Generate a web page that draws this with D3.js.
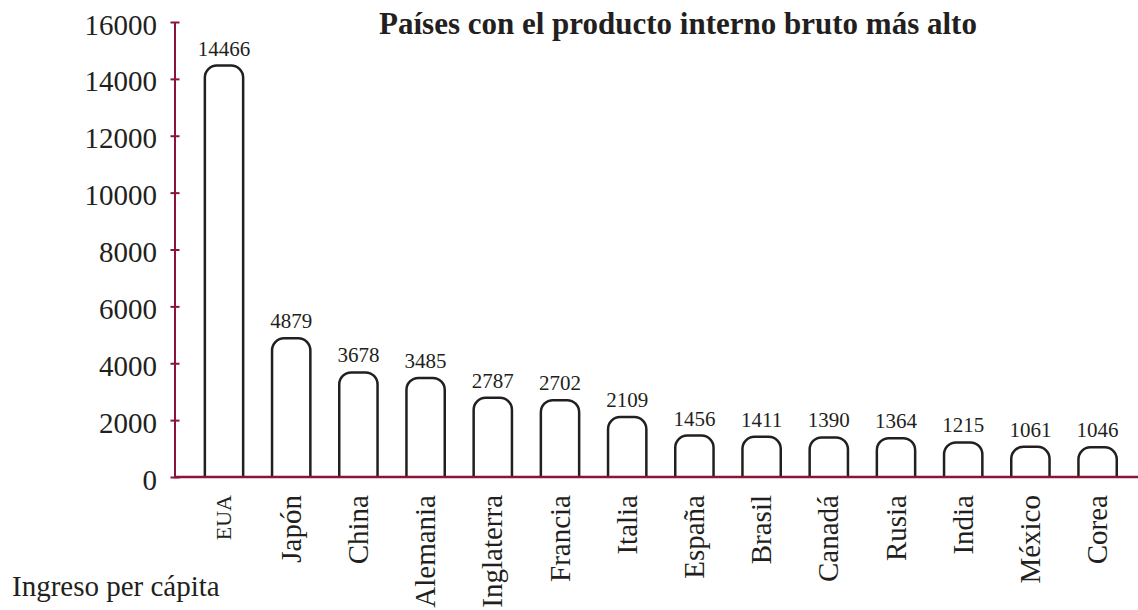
<!DOCTYPE html>
<head>
  <meta charset="utf-8">
  <style>
    body { margin: 0; background: #fff; }
    svg text { font-family: "Liberation Serif", "Times New Roman", serif; fill: #231f20; }
    .axis path, .axis line { stroke: #8a1538; stroke-width: 2; }
    .axis .domain { display: none; }
    .bar { fill: #fff; stroke: #231f20; stroke-width: 2.5; }
  </style>
</head>
<body>
  <svg width="1138" height="610"></svg>
  <script src="https://d3js.org/d3.v7.min.js"></script>
  <script>

  var paises = ["EUA", "Japón", "China", "Alemania", "Inglaterra", "Francia", "Italia",
                "España", "Brasil", "Canadá", "Rusia", "India", "México", "Corea"];
  var pib = [14466, 4879, 3678, 3485, 2787, 2702, 2109, 1456, 1411, 1390, 1364, 1215, 1061, 1046];
  var yTicks = [0, 2000, 4000, 6000, 8000, 10000, 12000, 14000, 16000];

  var svg = d3.select("svg"),
      width = +svg.attr("width"),
      height = +svg.attr("height");

  var x0 = 175, yBase = 477, yTop = 22;

  var x = d3.scaleBand()
      .domain(paises)
      .range([190.4, 1131.2])
      .paddingInner(0.43)
      .paddingOuter(0.215);

  var y = d3.scaleLinear()
      .domain([0, 16000])
      .range([yBase, yTop]);

  // title
  svg.append("text")
      .attr("x", 678)
      .attr("y", 34)
      .attr("text-anchor", "middle")
      .style("font-weight", "bold")
      .style("font-size", "31px")
      .text("Países con el producto interno bruto más alto");

  // bars: rounded top corners, open at the bottom
  var r = 12;
  function barPath(d, i) {
    var l = x(paises[i]), w = x.bandwidth(), t = y(d);
    return "M" + l + "," + yBase +
      "V" + (t + r) +
      "A" + r + "," + r + " 0 0 1 " + (l + r) + "," + t +
      "H" + (l + w - r) +
      "A" + r + "," + r + " 0 0 1 " + (l + w) + "," + (t + r) +
      "V" + yBase;
  }

  svg.append("g").selectAll("path")
    .data(pib)
    .join("path")
      .attr("class", "bar")
      .attr("d", barPath);

  svg.append("g").selectAll("text")
    .data(pib)
    .join("text")
      .attr("x", function(d, i) { return x(paises[i]) + x.bandwidth() / 2; })
      .attr("y", function(d) { return y(d) - 10; })
      .attr("text-anchor", "middle")
      .style("font-size", "21px")
      .text(function(d) { return d; });

  // y axis
  var yAxis = svg.append("g")
      .attr("class", "axis")
      .attr("transform", "translate(" + x0 + ",0)")
      .call(d3.axisLeft(y).tickValues(yTicks).tickSize(5).tickPadding(13).tickFormat(d3.format("d")));
  yAxis.selectAll(".tick line").attr("x1", 4.5).attr("x2", -4.5);
  yAxis.selectAll(".tick text")
      .attr("dy", null)
      .attr("y", 12)
      .style("font-size", "29px")
      .style("fill", "#231f20");

  svg.append("line")
      .attr("x1", x0).attr("x2", x0)
      .attr("y1", yTop).attr("y2", yBase)
      .attr("stroke", "#8a1538").attr("stroke-width", 2);

  // x axis
  svg.append("line")
      .attr("x1", x0 - 1).attr("x2", width)
      .attr("y1", yBase).attr("y2", yBase)
      .attr("stroke", "#8a1538").attr("stroke-width", 2.5);

  svg.append("g").selectAll("text")
    .data(paises)
    .join("text")
      .attr("transform", function(d) {
        return "translate(" + (x(d) + x.bandwidth() / 2) + ",495) rotate(-90)";
      })
      .attr("text-anchor", "end")
      .attr("dy", "0.33em")
      .style("font-size", function(d, i) { return i === 0 ? "22px" : "29px"; })
      .text(function(d) { return d; });

  svg.append("text")
      .attr("x", 12)
      .attr("y", 596)
      .style("font-size", "29px")
      .text("Ingreso per cápita");

  </script>
</body>
</html>
